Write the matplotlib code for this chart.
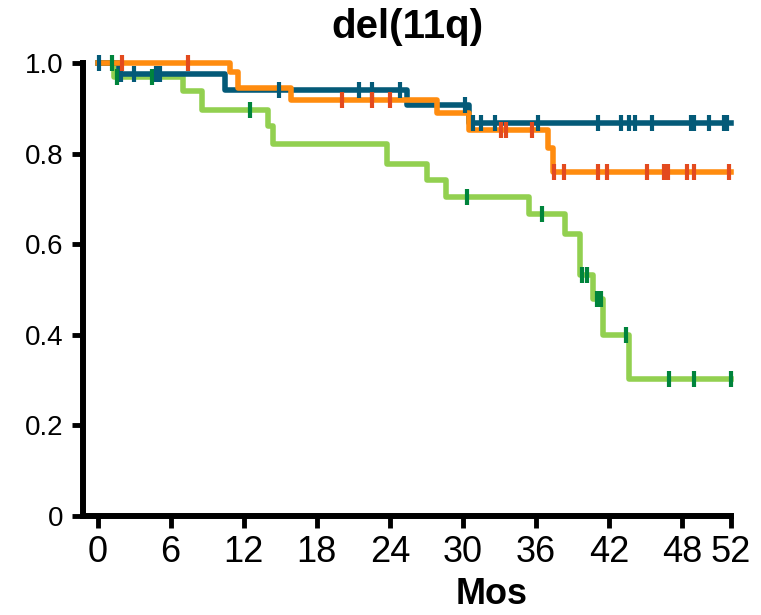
import numpy as np
import matplotlib
matplotlib.use("Agg")
import matplotlib.pyplot as plt

plt.rcParams['font.family'] = ['Liberation Sans', 'DejaVu Sans']

# ---------------------------
# data
# ---------------------------
title = "del(11q)"
xlabel = "Mos"
xticks = [0, 6, 12, 18, 24, 30, 36, 42, 48, 52]
yticks = [0, 0.2, 0.4, 0.6, 0.8, 1.0]
ytick_labels = ["0", "0.2", "0.4", "0.6", "0.8", "1.0"]

# green curve
green_t = [0, 1.35, 7.0, 8.6, 14.0, 14.4, 23.75, 27.05, 28.6, 35.4, 38.4, 39.6, 40.7, 41.5, 43.6, 52]
green_s = [1.0, 0.97, 0.938, 0.897, 0.86, 0.822, 0.776, 0.741, 0.705, 0.666, 0.623, 0.531, 0.478, 0.40, 0.302, 0.302]
green_cens = [1.2, 1.6, 4.5, 12.5, 30.3, 36.5, 39.75, 40.2, 41.0, 41.35, 43.4, 46.9, 48.95, 52.0]

# blue curve
blue_t = [0, 1.8, 10.5, 25.4, 30.5, 52]
blue_s = [1.0, 0.975, 0.94, 0.907, 0.867, 0.867]
blue_cens = [0.1, 1.9, 3.0, 4.8, 5.1, 14.9, 21.5, 22.5, 24.8, 30.2, 30.8, 31.5, 32.6,
             36.2, 41.1, 43.0, 43.6, 44.1, 45.5, 48.7, 49.0, 50.2, 51.4, 51.7]

# orange curve
orange_t = [0, 10.9, 11.5, 15.9, 27.9, 30.5, 37.0, 37.4, 52]
orange_s = [1.0, 0.979, 0.944, 0.918, 0.889, 0.853, 0.813, 0.759, 0.759]
orange_cens = [2.0, 7.4, 20.1, 22.5, 24.0, 33.1, 33.5, 35.7, 37.45, 38.3, 41.1, 41.8,
               45.1, 46.5, 46.8, 48.4, 49.0, 51.8]

curves = [
    (green_t, green_s, green_cens, "#92d050", "#00843c"),
    (blue_t, blue_s, blue_cens, "#045a78", "#045a78"),
    (orange_t, orange_s, orange_cens, "#ff8c0f", "#e34a1e"),
]


def step_value(t, s, x):
    idx = np.searchsorted(t, x, side="right") - 1
    return np.asarray(s)[np.clip(idx, 0, len(s) - 1)]


fig = plt.figure(figsize=(7.61, 6.15), dpi=100)
ax = fig.add_axes([0.109, 0.161, 0.8515, 0.7366])

for t, s, cens, lc, mc in curves:
    ax.step(t, s, where="post", color=lc, lw=4, solid_joinstyle="round",
            clip_on=False, zorder=2)
for t, s, cens, lc, mc in curves:
    ax.plot(cens, step_value(t, s, cens), ls="none", marker="|", ms=11, mew=3,
            color=mc, clip_on=False, zorder=3)

ax.set_xlim(-1.2, 52)
ax.set_ylim(0, 1.0)
ax.set_xticks(xticks)
ax.set_yticks(yticks)
ax.set_yticklabels(ytick_labels)

for side in ["top", "right"]:
    ax.spines[side].set_visible(False)
for side in ["left", "bottom"]:
    ax.spines[side].set_linewidth(4.3)
    ax.spines[side].set_capstyle("projecting")

ax.tick_params(axis="x", length=8.5, width=3.5, labelsize=26, pad=5)
ax.tick_params(axis="y", length=8, width=3.5, labelsize=20, pad=6)

ax.set_title(title, fontsize=29, fontweight="bold", pad=18)
ax.set_xlabel(xlabel, fontsize=26, fontweight="bold", labelpad=0)
ax.xaxis.set_label_coords(0.63, -0.135)

fig.savefig("out.png", dpi=100)
